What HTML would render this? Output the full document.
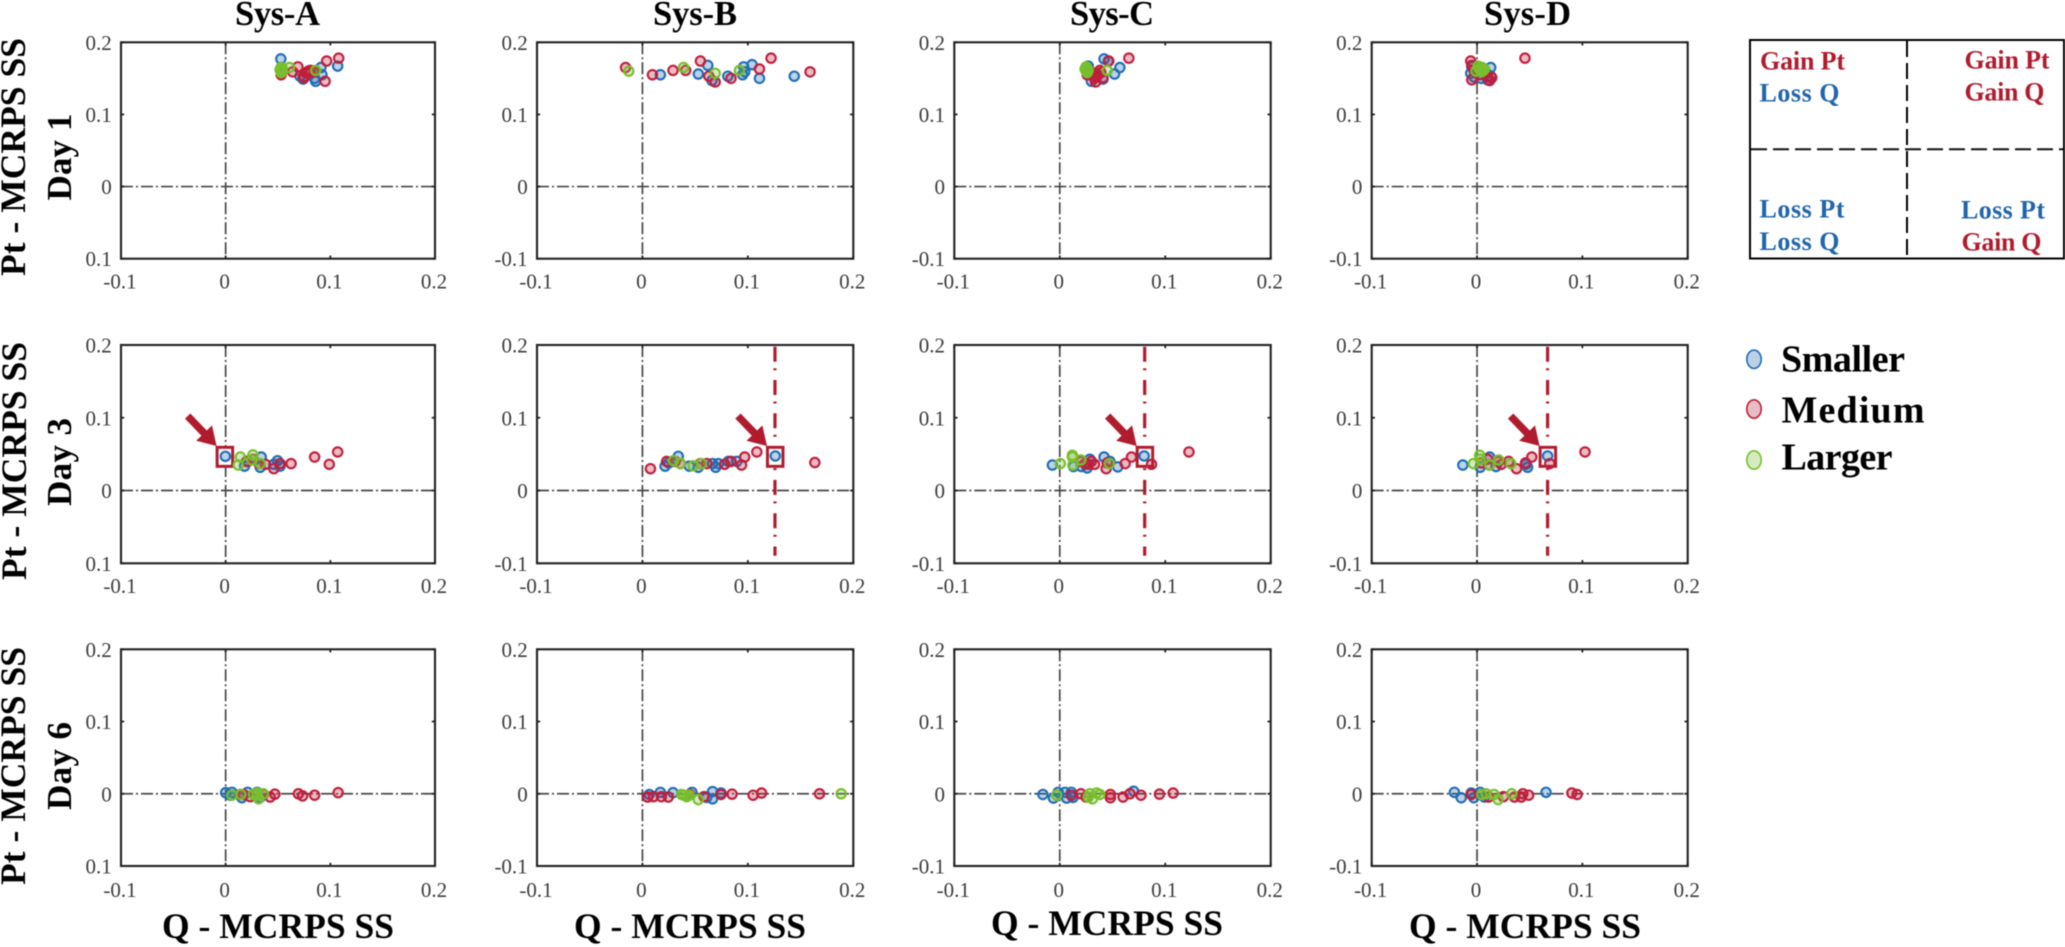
<!DOCTYPE html>
<html lang="en">
<head>
<meta charset="utf-8">
<title>Pt and Q MCRPS skill score scatter grid</title>
<style>
html,body{margin:0;padding:0;background:#fff;width:2065px;height:947px;overflow:hidden}
svg{display:block;filter:blur(0.45px)}
text{font-family:"Liberation Serif",serif}
.head{font-weight:700;font-size:35.5px;fill:#000}
.title{font-weight:700;font-size:34.5px;fill:#000}
.day{font-weight:700;font-size:35px;fill:#000}
.tick{font-size:21px;fill:#3c3c3c}
.key{font-weight:700;font-size:26px}
.size{font-weight:700;font-size:38px;fill:#000}
.red{fill:#b01c2e}.blue{fill:#2166ac}
</style>
</head>
<body>
<svg id="chart" xmlns="http://www.w3.org/2000/svg" width="2065" height="947" viewBox="0 0 2065 947">
  <rect x="0" y="0" width="2065" height="947" fill="#fff"/>

  <text class="title" x="235" y="25" textLength="85">Sys-A</text>
  <text class="title" x="653" y="25" textLength="84">Sys-B</text>
  <text class="title" x="1070" y="25" textLength="84">Sys-C</text>
  <text class="title" x="1484" y="25" textLength="87">Sys-D</text>

  <text class="head" text-anchor="middle" textLength="238" transform="translate(25 157) rotate(-90)">Pt - MCRPS SS</text>
  <text class="day" text-anchor="middle" textLength="87" transform="translate(71 157) rotate(-90)">Day 1</text>
  <text class="head" text-anchor="middle" textLength="238" transform="translate(26 461) rotate(-90)">Pt - MCRPS SS</text>
  <text class="day" text-anchor="middle" textLength="88" transform="translate(71 462) rotate(-90)">Day 3</text>
  <text class="head" text-anchor="middle" textLength="238" transform="translate(25 766) rotate(-90)">Pt - MCRPS SS</text>
  <text class="day" text-anchor="middle" textLength="88" transform="translate(71 766) rotate(-90)">Day 6</text>

  <text class="head" x="162" y="938" textLength="232">Q - MCRPS SS</text>
  <text class="head" x="574" y="938" textLength="232">Q - MCRPS SS</text>
  <text class="head" x="991" y="935" textLength="232">Q - MCRPS SS</text>
  <text class="head" x="1409" y="938" textLength="232">Q - MCRPS SS</text>

  <g>
    <rect x="1750" y="40" width="314" height="218.5" fill="#fff" stroke="#000" stroke-width="2"/>
    <line x1="1907" y1="41" x2="1907" y2="258" stroke="#000" stroke-width="2" stroke-dasharray="16 6"/>
    <line x1="1751" y1="149.3" x2="2063" y2="149.3" stroke="#111" stroke-width="2" stroke-dasharray="16 6"/>
    <text class="key red" x="1760" y="69.5" textLength="85">Gain Pt</text>
    <text class="key blue" x="1759.5" y="101.5" textLength="80">Loss Q</text>
    <text class="key red" x="1964.5" y="68.5" textLength="85">Gain Pt</text>
    <text class="key red" x="1964.5" y="100.5" textLength="80">Gain Q</text>
    <text class="key blue" x="1759.5" y="217.5" textLength="85">Loss Pt</text>
    <text class="key blue" x="1759.5" y="250" textLength="80">Loss Q</text>
    <text class="key blue" x="1961" y="218.5" textLength="84">Loss Pt</text>
    <text class="key red" x="1961.5" y="250.5" textLength="80">Gain Q</text>
  </g>

  <g>
    <ellipse cx="1754" cy="359.3" rx="7.2" ry="9.2" fill="#bcd0e6" stroke="#1f6db5" stroke-width="1.6"/>
    <text class="size" x="1781" y="371.5" textLength="124">Smaller</text>
    <ellipse cx="1754" cy="409" rx="7.2" ry="9.2" fill="#e8bcc4" stroke="#b8213a" stroke-width="1.6"/>
    <text class="size" x="1781.5" y="422.5" textLength="143">Medium</text>
    <ellipse cx="1754" cy="460" rx="7.2" ry="9.2" fill="#d6eac0" stroke="#78bf2e" stroke-width="1.6"/>
    <text class="size" x="1781.5" y="469.5" textLength="111">Larger</text>
  </g>

  <g id="panels"></g>
</svg>

<script>
/* Axis tick values and printed labels */
const xTicks = [-0.1, 0, 0.1, 0.2];
const yTicks = [-0.1, 0, 0.1, 0.2];
const xTickLabels = ['-0.1', '0', '0.1', '0.2'];
const yTickLabels = ['-0.1', '0', '0.1', '0.2'];
const yTickLabelsFirstColumn = ['0.1', '0', '0.1', '0.2'];
const systems = ['Sys-A', 'Sys-B', 'Sys-C', 'Sys-D'];
const days = ['Day 1', 'Day 3', 'Day 6'];
const sizeClasses = ['smaller', 'medium', 'larger'];

/* Highlighted forecast on Day 3, [Q skill, Pt skill], per system */
const highlightQ = [-0.001, 0.1257, 0.0805, 0.067];
const highlightPt = [0.047, 0.047, 0.047, 0.047];

/* Day 1 [Q skill, Pt skill] */
const day1SysASmaller = [[.0527,.177],[.107,.167],[.091,.165],[.092,.155],[.086,.146],[.071,.153],[.074,.149],[.085,.150],[.053,.165]];
const day1SysAMedium = [[.108,.178],[.0965,.174],[.095,.146],[.069,.166],[.064,.159],[.053,.155],[.081,.161],[.075,.151],[.077,.158],[.081,.158],[.085,.159],[.074,.152],[.079,.160]];
const day1SysALarger = [[.053,.165],[.053,.161],[.053,.158],[.053,.160],[.053,.163],[.052,.162],[.054,.164],[.061,.165],[.086,.161]];
const day1SysBSmaller = [[.017,.155],[.053,.156],[.062,.168],[.066,.147],[.081,.153],[.096,.166],[.097,.159],[.095,.155],[.104,.169],[.111,.150],[.144,.153]];
const day1SysBMedium = [[-.016,.165],[.0095,.155],[.029,.161],[.041,.161],[.055,.174],[.063,.153],[.069,.145],[.084,.150],[.111,.163],[.122,.178],[.159,.159]];
const day1SysBLarger = [[-.013,.160],[.039,.165],[.069,.157],[.092,.161]];
const day1SysCSmaller = [[.027,.167],[.042,.177],[.057,.165],[.052,.156],[.030,.146],[.041,.149],[.035,.153],[.046,.174]];
const day1SysCMedium = [[.0655,.178],[.0465,.174],[.034,.145],[.041,.151],[.038,.161],[.026,.155],[.030,.158],[.035,.152],[.039,.158],[.036,.155],[.033,.150],[.028,.160]];
const day1SysCLarger = [[.025,.162],[.025,.160],[.026,.164],[.026,.158],[.025,.166],[.027,.161],[.024,.163],[.045,.161]];
const day1SysDSmaller = [[-.005,.166],[.013,.165],[.009,.157],[-.006,.157],[.004,.150],[.010,.148],[-.003,.152],[.013,.153]];
const day1SysDMedium = [[.0455,.178],[-.006,.174],[-.005,.148],[.014,.151],[.006,.160],[-.003,.162],[-.005,.168],[.002,.155],[.010,.152],[.012,.147]];
const day1SysDLarger = [[.003,.165],[-.001,.160],[.002,.163],[.005,.165],[.007,.163],[.004,.159],[.001,.167],[.006,.161]];

/* Day 3 [Q skill, Pt skill] */
const day3SysASmaller = [[-.0003,.047],[.034,.046],[.0495,.041],[.052,.0335],[.018,.0335],[.033,.032],[.046,.036],[.021,.040]];
const day3SysAMedium = [[.107,.053],[.085,.046],[.099,.036],[.0625,.037],[.052,.037],[.046,.030],[.038,.036],[.032,.037],[.020,.040],[.026,.043]];
const day3SysALarger = [[.014,.046],[.026,.049],[.012,.035],[.025,.042],[.033,.037]];
const day3SysBSmaller = [[.126,.0475],[.0215,.0335],[.034,.047],[.0445,.0335],[.053,.032],[.0665,.037],[.0695,.032],[.072,.037],[.0815,.040],[.0895,.040],[.025,.038]];
const day3SysBMedium = [[.0076,.030],[.023,.040],[.036,.037],[.061,.037],[.078,.036],[.084,.040],[.094,.035],[.097,.046],[.1085,.053],[.1635,.0385],[.031,.040],[.055,.037]];
const day3SysBLarger = [[.0295,.041],[.036,.037],[.048,.034],[.056,.037]];
const day3SysCSmaller = [[.080,.0475],[-.007,.035],[.042,.046],[.055,.0325],[.026,.031],[.0285,.043],[.0205,.033],[.013,.033],[.0475,.040]];
const day3SysCMedium = [[.1225,.053],[.068,.046],[.062,.037],[.087,.036],[.044,.030],[.045,.038],[.033,.036],[.030,.040],[.024,.037],[.0205,.040],[.027,.036]];
const day3SysCLarger = [[.0005,.037],[.012,.0485],[.0125,.035],[.020,.042],[.047,.037],[.012,.046]];
const day3SysDSmaller = [[.067,.0475],[-.0135,.035],[.012,.046],[.048,.032],[.003,.032],[.018,.033],[.0465,.036]];
const day3SysDMedium = [[.1025,.053],[.052,.046],[.0375,.030],[.069,.037],[.046,.038],[.030,.040],[.023,.036],[.004,.038],[.010,.043],[.012,.035],[.0205,.040]];
const day3SysDLarger = [[.0025,.0485],[-.0035,.037],[.012,.035],[.0205,.042],[.032,.037],[.003,.043]];

/* Day 6 [Q skill, Pt skill] */
const day6SysASmaller = [[0,.0015],[.006,.002],[.021,.002],[.030,.002],[.0155,-.0055],[.0045,-.002],[.033,-.005]];
const day6SysAMedium = [[.1075,.0015],[.085,-.002],[.0735,-.003],[.0695,0],[.047,-.0005],[.0425,-.0045],[.036,-.001],[.0235,-.004],[.017,-.001],[.014,-.001]];
const day6SysALarger = [[.006,-.002],[.0145,-.001],[.030,-.002],[.0315,-.007],[.036,0],[.0265,-.001],[.030,.001]];
const day6SysBSmaller = [[.0065,-.001],[.017,.002],[.029,.0015],[.047,.002],[.0665,.003],[.0665,-.007],[.0745,.001],[.061,-.005]];
const day6SysBMedium = [[.005,-.0045],[.0105,-.004],[.018,-.004],[.0245,-.0045],[.045,-.001],[.0585,-.004],[.0745,-.001],[.085,-.0005],[.105,-.002],[.113,.001],[.168,0]];
const day6SysBLarger = [[.037,-.001],[.042,-.004],[.0445,-.002],[.053,-.008],[.1885,0],[.0395,-.002]];
const day6SysCSmaller = [[-.016,-.001],[-.006,-.006],[-.0015,.002],[.005,.002],[.011,.002],[.0065,-.006],[.070,.0035],[.0125,-.005]];
const day6SysCMedium = [[.011,-.002],[.020,0],[.025,-.0045],[.048,-.001],[.048,-.0055],[.060,-.0045],[.0665,0],[.077,-.002],[.0945,-.0005],[.1075,.001]];
const day6SysCLarger = [[-.003,-.002],[.0285,0],[.031,-.007],[.038,-.001],[.035,.001],[.027,-.0045]];
const day6SysDSmaller = [[-.0215,.002],[-.015,-.0055],[.003,.002],[-.003,-.0055],[.0655,.002],[-.0055,.001],[.007,-.0045]];
const day6SysDMedium = [[-.0055,-.001],[.011,-.0045],[.025,-.004],[.0355,-.0045],[.042,-.0045],[.0435,0],[.049,-.002],[.090,.001],[.095,-.001]];
const day6SysDLarger = [[.0045,-.001],[.0085,0],[.016,-.001],[.020,-.008],[.033,0]];

const grid = [
  [[day1SysASmaller, day1SysAMedium, day1SysALarger], [day1SysBSmaller, day1SysBMedium, day1SysBLarger], [day1SysCSmaller, day1SysCMedium, day1SysCLarger], [day1SysDSmaller, day1SysDMedium, day1SysDLarger]],
  [[day3SysASmaller, day3SysAMedium, day3SysALarger], [day3SysBSmaller, day3SysBMedium, day3SysBLarger], [day3SysCSmaller, day3SysCMedium, day3SysCLarger], [day3SysDSmaller, day3SysDMedium, day3SysDLarger]],
  [[day6SysASmaller, day6SysAMedium, day6SysALarger], [day6SysBSmaller, day6SysBMedium, day6SysBLarger], [day6SysCSmaller, day6SysCMedium, day6SysCLarger], [day6SysDSmaller, day6SysDMedium, day6SysDLarger]]
];

const columnFrames = [{l:121,r:435},{l:537,r:853.3},{l:954.3,r:1270.7},{l:1371.7,r:1687.7}];
const rowFrames = [{t:42.3,b:258.7,lab:288.5},{t:345,b:563.3,lab:593},{t:649.3,b:866,lab:897}];
const strokeColors = ['#1f6db5', '#bf1e3c', '#78bf2e'];
const SVGNS = 'http://www.w3.org/2000/svg';
const RED = '#b01c2e';
const root = document.getElementById('panels');

function make(tag, parent, props) {
  const el = document.createElementNS(SVGNS, tag);
  for (const k in props) el.setAttribute(k, props[k]);
  parent.appendChild(el);
  return el;
}
function xScale(c, v) {
  const f = columnFrames[c];
  return f.l + (v - xTicks[0]) / (xTicks[xTicks.length - 1] - xTicks[0]) * (f.r - f.l);
}
function yScale(r, v) {
  const f = rowFrames[r];
  return f.b - (v - yTicks[0]) / (yTicks[yTicks.length - 1] - yTicks[0]) * (f.b - f.t);
}

function drawArrow(parent, tipX, tipY) {
  const tailX = tipX - 29, tailY = tipY - 30;
  const len = Math.hypot(tipX - tailX, tipY - tailY);
  const ux = (tipX - tailX) / len, uy = (tipY - tailY) / len;
  const nx = -uy, ny = ux;
  const headLen = 18, headHalf = 11, shaftHalf = 3.7;
  const bx = tipX - ux * headLen, by = tipY - uy * headLen;
  const pts = [
    [tailX + nx * shaftHalf, tailY + ny * shaftHalf],
    [bx + nx * shaftHalf, by + ny * shaftHalf],
    [bx + nx * headHalf, by + ny * headHalf],
    [tipX, tipY],
    [bx - nx * headHalf, by - ny * headHalf],
    [bx - nx * shaftHalf, by - ny * shaftHalf],
    [tailX - nx * shaftHalf, tailY - ny * shaftHalf]
  ];
  return make('polygon', parent, {points: pts.map(p => p[0].toFixed(1) + ',' + p[1].toFixed(1)).join(' '), fill: RED});
}

days.forEach(function (day, r) {
  systems.forEach(function (sys, c) {
    const cf = columnFrames[c], rf = rowFrames[r];
    const slug = sys.toLowerCase() + '-' + day.toLowerCase().replace(' ', '-');

    const g = make('g', root, {});
    
    

    const plot = make('rect', g, {x: cf.l, y: rf.t, width: cf.r - cf.l, height: rf.b - rf.t, fill: '#fff'});
    
    

    const zeroV = make('line', g, {x1: xScale(c, 0), x2: xScale(c, 0), y1: rf.t, y2: rf.b, stroke: '#484848', 'stroke-width': 1.7, 'stroke-dasharray': '12 3 2 3'});
    
    

    const zeroH = make('line', g, {x1: cf.l, x2: cf.r, y1: yScale(r, 0), y2: yScale(r, 0), stroke: '#484848', 'stroke-width': 1.7, 'stroke-dasharray': '12 3 2 3'});
    
    

    if (r === 1) {
      const hx = xScale(c, highlightQ[c]), hy = yScale(r, highlightPt[c]);
      if (c > 0) {
        const refLine = make('line', g, {x1: hx, x2: hx, y1: rf.t + 1.7, y2: rf.b - 7.6, stroke: RED, 'stroke-width': 3.2, 'stroke-dasharray': '15 6.5 2 9.8'});
        
        
      }
      const box = make('rect', g, {x: hx - 7.5, y: hy - 9, width: 15.5, height: 19, fill: '#fff', stroke: RED, 'stroke-width': 3});
      
      
    }

    grid[r][c].forEach(function (series, s) {
      const sg = make('g', g, {});
      
      
      series.forEach(function (pt) {
        const dot = make('circle', sg, {cx: xScale(c, pt[0]).toFixed(2), cy: yScale(r, pt[1]).toFixed(2), r: 4.7, fill: strokeColors[s], 'fill-opacity': 0.3, stroke: strokeColors[s], 'stroke-width': 2.1});
        
        
      });
    });

    if (r === 1) {
      const arrow = drawArrow(g, xScale(c, highlightQ[c]) - 8, yScale(r, highlightPt[c]) - 10.3);
      
      
    }

    const frame = make('rect', g, {x: cf.l, y: rf.t, width: cf.r - cf.l, height: rf.b - rf.t, fill: 'none', stroke: '#222', 'stroke-width': 2.1});
    
    

    xTicks.forEach(function (t, i) {
      const x = xScale(c, t);
      const tickB = make('line', g, {x1: x, x2: x, y1: rf.b, y2: rf.b - 3.2, stroke: '#222', 'stroke-width': 1.8});
      
      
      const tickT = make('line', g, {x1: x, x2: x, y1: rf.t, y2: rf.t + 3.2, stroke: '#222', 'stroke-width': 1.8});
      
      
      const lab = make('text', g, {x: x - 1, y: rf.lab, 'text-anchor': 'middle', class: 'tick'});
      lab.textContent = xTickLabels[i];
      
      
    });

    const yLabels = c === 0 ? yTickLabelsFirstColumn : yTickLabels;
    yTicks.forEach(function (t, i) {
      const y = yScale(r, t);
      const tickL = make('line', g, {x1: cf.l, x2: cf.l + 3.2, y1: y, y2: y, stroke: '#222', 'stroke-width': 1.8});
      
      
      const tickR = make('line', g, {x1: cf.r, x2: cf.r - 3.2, y1: y, y2: y, stroke: '#222', 'stroke-width': 1.8});
      
      
      const lab = make('text', g, {x: cf.l - 9.3, y: y + 7.5, 'text-anchor': 'end', class: 'tick'});
      lab.textContent = yLabels[i];
      
      
    });
  });
});
</script>
</body>
</html>
